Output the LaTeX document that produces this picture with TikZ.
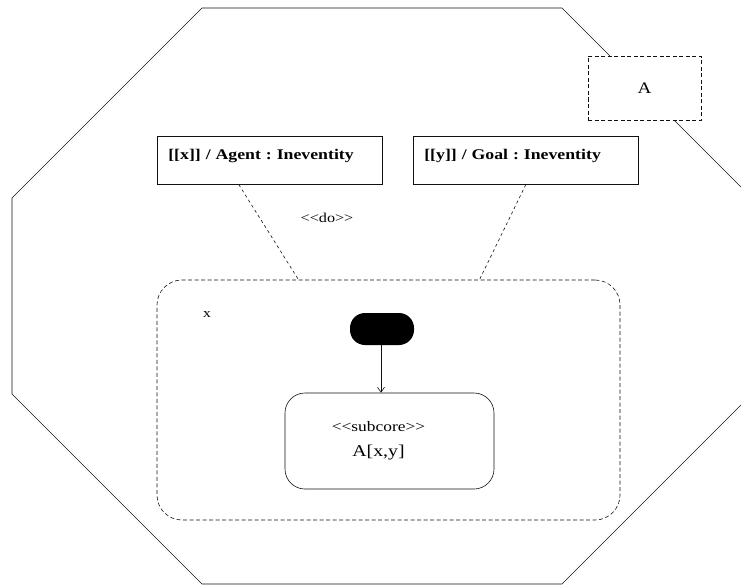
\documentclass[tikz,border=0pt]{standalone}
\usepackage{fontspec}
\setmainfont{Liberation Serif}[FakeStretch=1.2, Ligatures=TeXOff]
\frenchspacing
\usetikzlibrary{positioning, arrows.meta}
\definecolor{ink}{HTML}{111111}

\begin{document}
\begin{tikzpicture}[x=1pt, y=-1pt, line width=0.6pt, draw=ink,
    notebox/.style={draw=ink, fill=white, anchor=north west,
      font=\bfseries\fontsize{14.8}{16}\selectfont,
      text width=203pt, align=left, inner xsep=11pt, inner ysep=6pt,
      text height=17pt, text depth=19pt},
    dashbox/.style={draw=ink, fill=white, dash pattern=on 4pt off 2.5pt},
    thin dash/.style={draw=ink, dash pattern=on 3pt off 3pt}]
  \useasboundingbox (0,0) rectangle (741,586);
  \clip (0,0) rectangle (741,586);
  \draw[ink] (202,8) -- (562,8) -- (752,198) -- (752,394)
    -- (562,584) -- (202,584) -- (12,394) -- (12,198) -- cycle;
  \node[dashbox, minimum width=113pt, minimum height=64pt,
    font=\fontsize{16}{18}\selectfont] (abox) at (644.5,88) {A};
  \node[notebox] (xbox) at (157,136) {[[x]] / Agent : Ineventity};
  \node[notebox] (ybox) at (413,136) {[[y]] / Goal : Ineventity};
  \node[font=\fontsize{13.5}{15}\selectfont] (dolabel) at (327,218) {<<do>>};
  \node[dashbox, rounded corners=25pt, minimum width=463pt,
    minimum height=240pt] (region) at (388.5,400) {};
  \node[font=\fontsize{13}{14}\selectfont] (xlabel) at (207,315) {x};
  \node[fill=black, rounded corners=15pt, minimum width=64pt,
    minimum height=32pt] (init) at (382,329) {};
  \node[draw=ink, rounded corners=20pt, minimum width=209pt,
    minimum height=96pt, align=center, font=\fontsize{14.5}{25}\selectfont]
    (core) at (389.5,441)
    {<<subcore>>\hspace*{22pt}\\{\fontsize{16.5}{25}\selectfont A[x,y]}\hspace*{22pt}};
  \draw[thin dash] ([xshift=-31pt]xbox.south) -- ([xshift=-90pt]region.north);
  \draw[thin dash] (ybox.south) -- ([xshift=91pt]region.north);
  \draw[ink, -{Straight Barb[length=5pt, width=7pt]}] (init.south -| 381,0)
    -- (core.north -| 381,0);
\end{tikzpicture}
\end{document}
